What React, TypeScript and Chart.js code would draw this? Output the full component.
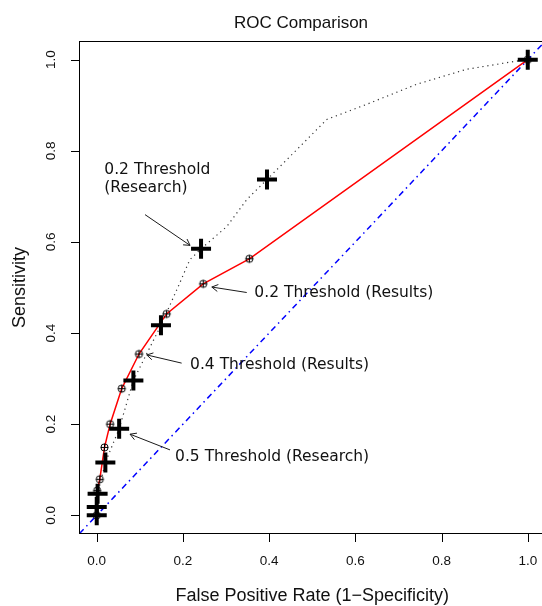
import React, { useEffect, useRef } from "react";
import { Chart, registerables } from "chart.js";

Chart.register(...registerables);

// Axis limits (R-style 4% extension around 0..1)
const AXIS_MIN = -0.04;
const AXIS_MAX = 1.04;

const xTicks = [0, 0.2, 0.4, 0.6, 0.8, 1.0];
const yTicks = [0, 0.2, 0.4, 0.6, 0.8, 1.0];
const xTickLabels = ["0.0", "0.2", "0.4", "0.6", "0.8", "1.0"];
const yTickLabels = ["0.0", "0.2", "0.4", "0.6", "0.8", "1.0"];

const chartTitle = "ROC Comparison";
const xAxisTitle = "False Positive Rate (1\u2212Specificity)";
const yAxisTitle = "Sensitivity";

// "Results" ROC curve (red, circle-plus markers)
const resultsFpr = [0, 0.001, 0.007, 0.018, 0.031, 0.058, 0.098, 0.162, 0.247, 0.354, 1];
const resultsTpr = [0, 0.054, 0.079, 0.149, 0.2, 0.278, 0.354, 0.442, 0.508, 0.563, 1];

// "Research" ROC curve (dotted)
const researchCurveFpr = [0, 0, 0.002, 0.02, 0.052, 0.085, 0.149, 0.189, 0.216, 0.242, 0.302, 0.348, 0.395, 0.472, 0.534, 0.626, 0.742, 0.858, 0.974, 1];
const researchCurveTpr = [0, 0.018, 0.047, 0.116, 0.19, 0.296, 0.417, 0.502, 0.561, 0.585, 0.634, 0.693, 0.737, 0.81, 0.869, 0.902, 0.946, 0.979, 0.997, 1];

// "Research" threshold points (thick crosses)
const researchThreshFpr = [0, 0, 0.002, 0.02, 0.052, 0.085, 0.149, 0.242, 0.395, 1];
const researchThreshTpr = [0, 0.018, 0.047, 0.116, 0.19, 0.296, 0.417, 0.585, 0.737, 1];

// Chance diagonal (abline 0,1) across the whole plot region
const chanceLine = [AXIS_MIN, AXIS_MAX];

// Annotations (data coordinates)
const annotationLabels = [
  ["0.2 Threshold", "(Research)"],
  ["0.2 Threshold (Results)"],
  ["0.4 Threshold (Results)"],
  ["0.5 Threshold (Research)"],
];
const annotationTextX = [0.0176, 0.3657, 0.2165, 0.1817];
const annotationTextY = [0.757, 0.488, 0.33, 0.1288];
const arrowFromX = [0.112, 0.348, 0.197, 0.17];
const arrowFromY = [0.66, 0.489, 0.334, 0.1435];
const arrowToX = [0.2165, 0.267, 0.116, 0.0773];
const arrowToY = [0.5925, 0.501, 0.352, 0.178];

const SANS = "'Liberation Sans', Arial, Helvetica, sans-serif";
const NOTE = "'DejaVu Sans', Verdana, sans-serif";

export default function App() {
  const ref = useRef<HTMLCanvasElement | null>(null);

  useEffect(() => {
    const canvas = ref.current;
    if (!canvas) return;

    // circle with plus marker (R pch = 10)
    const plusCircle = document.createElement("canvas");
    plusCircle.width = 11;
    plusCircle.height = 11;
    const pc = plusCircle.getContext("2d")!;
    pc.strokeStyle = "#000";
    pc.lineWidth = 1;
    pc.beginPath();
    pc.arc(5.5, 5.5, 3.6, 0, Math.PI * 2);
    pc.stroke();
    pc.beginPath();
    pc.moveTo(5.5, 1.9);
    pc.lineTo(5.5, 9.1);
    pc.moveTo(1.9, 5.5);
    pc.lineTo(9.1, 5.5);
    pc.stroke();

    const toPts = (xs: number[], ys: number[]) => xs.map((x, i) => ({ x, y: ys[i] }));

    const overlay = {
      id: "rStyleOverlay",
      afterDatasetsDraw(chart: any) {
        const ctx = chart.ctx as CanvasRenderingContext2D;
        const xs = chart.scales.x;
        const ys = chart.scales.y;
        ctx.save();
        ctx.font = `15.5px ${NOTE}`;
        ctx.fillStyle = "#111";
        ctx.textAlign = "left";
        ctx.textBaseline = "middle";
        annotationLabels.forEach((lines, i) => {
          const tx = xs.getPixelForValue(annotationTextX[i]);
          const ty = ys.getPixelForValue(annotationTextY[i]);
          lines.forEach((ln, j) => ctx.fillText(ln, tx, ty + j * 17.3));
          const x1 = xs.getPixelForValue(arrowFromX[i]);
          const y1 = ys.getPixelForValue(arrowFromY[i]);
          const x2 = xs.getPixelForValue(arrowToX[i]);
          const y2 = ys.getPixelForValue(arrowToY[i]);
          ctx.strokeStyle = "#1a1a1a";
          ctx.lineWidth = 1;
          ctx.beginPath();
          ctx.moveTo(x1, y1);
          ctx.lineTo(x2, y2);
          const ang = Math.atan2(y2 - y1, x2 - x1);
          const len = 7;
          const spread = Math.PI / 6;
          ctx.moveTo(x2 - len * Math.cos(ang - spread), y2 - len * Math.sin(ang - spread));
          ctx.lineTo(x2, y2);
          ctx.lineTo(x2 - len * Math.cos(ang + spread), y2 - len * Math.sin(ang + spread));
          ctx.stroke();
        });
        ctx.restore();
      },
      afterDraw(chart: any) {
        const ctx = chart.ctx as CanvasRenderingContext2D;
        const a = chart.chartArea;
        const xs = chart.scales.x;
        const ys = chart.scales.y;
        ctx.save();
        ctx.strokeStyle = "#000";
        ctx.lineWidth = 1;
        ctx.strokeRect(a.left, a.top, a.right - a.left, a.bottom - a.top);

        // x ticks
        ctx.beginPath();
        xTicks.forEach((v) => {
          const px = Math.round(xs.getPixelForValue(v)) + 0.5;
          ctx.moveTo(px, a.bottom);
          ctx.lineTo(px, a.bottom + 8.5);
        });
        yTicks.forEach((v) => {
          const py = Math.round(ys.getPixelForValue(v)) + 0.5;
          ctx.moveTo(a.left, py);
          ctx.lineTo(a.left - 8.5, py);
        });
        ctx.stroke();

        ctx.fillStyle = "#111";
        ctx.font = `13.5px ${SANS}`;
        ctx.textAlign = "center";
        ctx.textBaseline = "middle";
        xTicks.forEach((v, i) => {
          ctx.fillText(xTickLabels[i], xs.getPixelForValue(v), a.bottom + 28);
        });
        yTicks.forEach((v, i) => {
          ctx.save();
          ctx.translate(a.left - 28, ys.getPixelForValue(v));
          ctx.rotate(-Math.PI / 2);
          ctx.fillText(yTickLabels[i], 0, 0);
          ctx.restore();
        });

        // axis titles
        ctx.font = `18px ${SANS}`;
        ctx.textBaseline = "alphabetic";
        ctx.fillText(xAxisTitle, (a.left + a.right) / 2, a.bottom + 67.5);
        ctx.save();
        ctx.translate(a.left - 54.5, (a.top + a.bottom) / 2);
        ctx.rotate(-Math.PI / 2);
        ctx.fillText(yAxisTitle, 0, 0);
        ctx.restore();

        // main title
        ctx.font = `17px ${SANS}`;
        ctx.fillText(chartTitle, 301, 27.5);
        ctx.restore();
      },
    };

    const chart = new Chart(canvas, {
      type: "scatter",
      data: {
        datasets: [
          {
            label: "Research thresholds",
            data: toPts(researchThreshFpr, researchThreshTpr),
            showLine: false,
            pointStyle: "cross",
            pointRadius: 10,
            pointBorderWidth: 4,
            borderColor: "#000",
            backgroundColor: "#000",
            order: 0,
            clip: false,
          },
          {
            label: "Results",
            data: toPts(resultsFpr, resultsTpr),
            showLine: true,
            borderColor: "#ff0000",
            borderWidth: 1.5,
            pointStyle: plusCircle,
            pointRadius: 4,
            pointBorderColor: "#000",
            order: 1,
            clip: false,
          },
          {
            label: "Research ROC",
            data: toPts(researchCurveFpr, researchCurveTpr),
            showLine: true,
            borderColor: "#333",
            borderWidth: 1.2,
            borderDash: [1.2, 3.8],
            pointRadius: 0,
            order: 2,
          },
          {
            label: "Chance",
            data: toPts(chanceLine, chanceLine),
            showLine: true,
            borderColor: "#0000ff",
            borderWidth: 1.5,
            borderDash: [6, 4, 1.5, 4],
            pointRadius: 0,
            order: 3,
            clip: 0,
          },
        ] as any,
      },
      options: {
        responsive: false,
        animation: false,
        devicePixelRatio: 1,
        events: [],
        layout: { padding: { left: 79.5, top: 41.5, right: 15, bottom: 72.5 } },
        scales: {
          x: { type: "linear", min: AXIS_MIN, max: AXIS_MAX, display: false },
          y: { type: "linear", min: AXIS_MIN, max: AXIS_MAX, display: false },
        },
        plugins: {
          legend: { display: false },
          tooltip: { enabled: false },
          title: { display: false },
        },
      },
      plugins: [overlay],
    });

    return () => chart.destroy();
  }, []);

  return (
    <div style={{ position: "absolute", left: 0, top: 0, width: 542, height: 606, overflow: "hidden", background: "#fff" }}>
      <canvas ref={ref} width={560} height={606} style={{ display: "block" }} />
    </div>
  );
}
